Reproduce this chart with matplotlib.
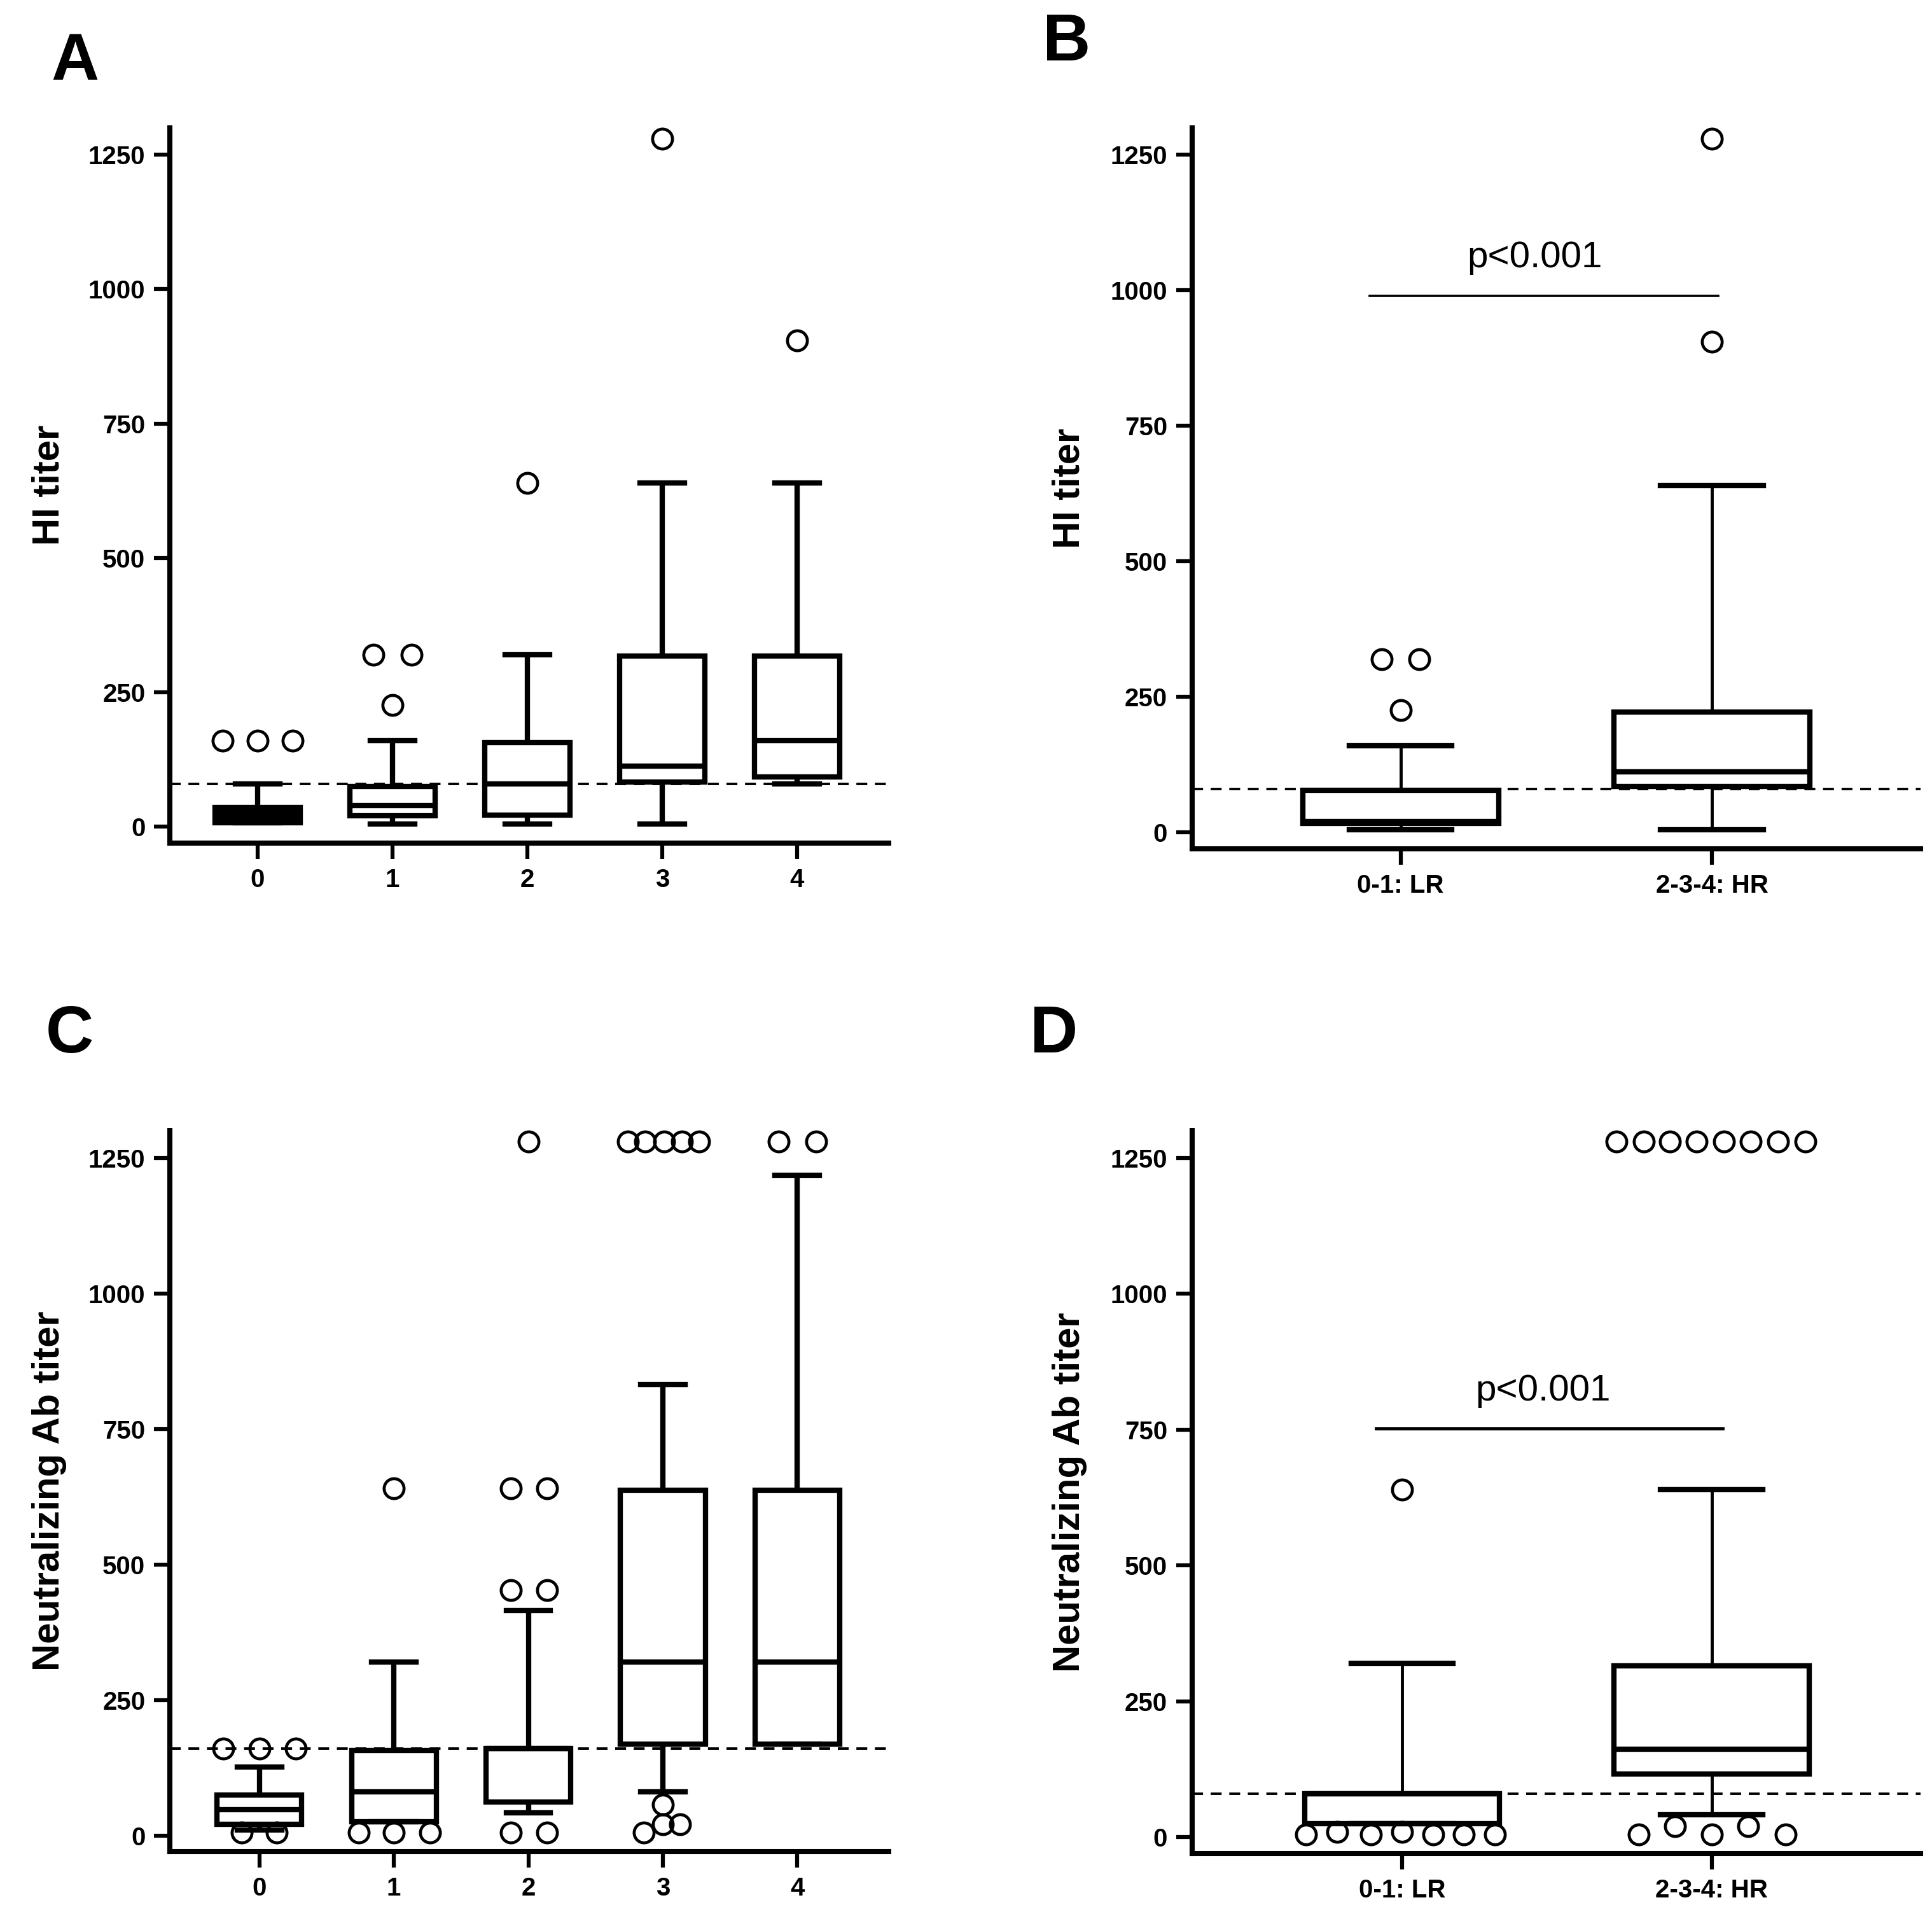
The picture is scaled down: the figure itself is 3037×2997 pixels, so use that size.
import matplotlib
matplotlib.use('Agg')
import matplotlib.pyplot as plt

plt.rcParams['font.family'] = ['Liberation Sans', 'DejaVu Sans']

# panel A - HI titer by score
a_labels = ['0', '1', '2', '3', '4']
a_q1 = [8, 20, 22, 83, 93]
a_med = [20, 40, 80, 113, 160]
a_q3 = [36, 75, 157, 317, 317]
a_lo = [8, 5, 5, 5, 80]
a_hi = [80, 160, 320, 640, 640]
a_fx = [-0.26, 0, 0.26, 0.86, 1.14, 1, 2, 3, 4]
a_fy = [160, 160, 160, 320, 320, 226, 640, 1280, 905]

# panel B - HI titer LR / HR
b_labels = ['0-1: LR', '2-3-4: HR']
b_q1 = [16, 85]
b_med = [20, 112]
b_q3 = [78, 222]
b_lo = [5, 5]
b_hi = [160, 640]
b_fx = [-0.06, 0.06, 0, 1, 1]
b_fy = [320, 320, 226, 1280, 905]

# panel C - neutralizing Ab titer by score
c_labels = ['0', '1', '2', '3', '4']
c_q1 = [20, 25, 62, 168, 168]
c_med = [48, 80, 160, 320, 320]
c_q3 = [75, 157, 160, 637, 637]
c_lo = [10, 25, 42, 80, 168]
c_hi = [126, 320, 415, 832, 1218]
c_fx = [-0.27, 0, 0.27, -0.13, 0.13,
        1, 0.74, 1, 1.27,
        2, 1.87, 2.14, 1.87, 2.14, 1.87, 2.14,
        2.74, 2.87, 3.01, 3.14, 3.27, 3, 3, 3.13, 2.86,
        3.86, 4.14]
c_fy = [160, 160, 160, 5, 5,
        640, 5, 5, 5,
        1280, 640, 640, 453, 453, 5, 5,
        1280, 1280, 1280, 1280, 1280, 57, 20, 20, 5,
        1280, 1280]

# panel D - neutralizing Ab titer LR / HR
d_labels = ['0-1: LR', '2-3-4: HR']
d_q1 = [25, 116]
d_med = [80, 162]
d_q3 = [80, 316]
d_lo = [25, 42]
d_hi = [320, 640]
d_fx = [0, -0.31, -0.21, -0.1, 0, 0.1, 0.2, 0.3,
        0.693, 0.781, 0.865, 0.952, 1.04, 1.127, 1.215, 1.303,
        0.764, 0.882, 1, 1.118, 1.238]
d_fy = [640, 5, 10, 5, 10, 5, 5, 5,
        1280, 1280, 1280, 1280, 1280, 1280, 1280, 1280,
        5, 20, 5, 20, 5]


def make_stats(labels, q1, med, q3, lo, hi):
    out = []
    for i in range(len(labels)):
        out.append(dict(label=labels[i], q1=q1[i], med=med[i], q3=q3[i],
                        whislo=lo[i], whishi=hi[i], fliers=[]))
    return out


def draw_panel(ax, st, fx, fy, cutoff, xlim, whisk_lw, ylabel):
    n = len(st)
    bp = ax.bxp(st, positions=list(range(n)), widths=0.63, showfliers=False,
                patch_artist=True, capwidths=0.33,
                boxprops=dict(lw=6, edgecolor='black', facecolor='white'),
                whiskerprops=dict(lw=whisk_lw, color='black', solid_capstyle='butt'),
                capprops=dict(lw=6, color='black'),
                medianprops=dict(lw=6, color='black', solid_capstyle='butt'))
    ax.plot(fx, fy, 'o', ms=22.5, mfc='none', mec='black', mew=3.4, clip_on=False, zorder=5)
    ax.axhline(cutoff, ls=(0, (4.4, 3.1)), lw=2.8, color='black', zorder=1)
    ax.set_xlim(xlim)
    ax.set_ylim(-30, 1300)
    ax.set_yticks([0, 250, 500, 750, 1000, 1250])
    ax.set_xticks(list(range(n)))
    ax.set_xticklabels([s['label'] for s in st])
    for s in ['top', 'right']:
        ax.spines[s].set_visible(False)
    for s in ['left', 'bottom']:
        ax.spines[s].set_linewidth(5.8)
    ax.tick_params(length=18, width=4.5, labelsize=29, pad=10)
    for t in ax.get_xticklabels() + ax.get_yticklabels():
        t.set_fontweight('bold')
    ax.set_ylabel(ylabel, fontsize=43, fontweight='bold')
    ax.yaxis.set_label_coords(-0.144, 0.5)
    return bp


fig = plt.figure(figsize=(30.37, 29.97), dpi=100)
axA = fig.add_axes([0.088, 0.558, 0.372, 0.375])
axB = fig.add_axes([0.617, 0.555, 0.377, 0.378])
axC = fig.add_axes([0.088, 0.029, 0.372, 0.378])
axD = fig.add_axes([0.617, 0.028, 0.377, 0.379])

bpA = draw_panel(axA, make_stats(a_labels, a_q1, a_med, a_q3, a_lo, a_hi),
                 a_fx, a_fy, 80, (-0.65, 4.68), 6, 'HI titer')
bpA['boxes'][0].set_facecolor('black')
draw_panel(axB, make_stats(b_labels, b_q1, b_med, b_q3, b_lo, b_hi),
           b_fx, b_fy, 80, (-0.67, 1.67), 3.5, 'HI titer')
draw_panel(axC, make_stats(c_labels, c_q1, c_med, c_q3, c_lo, c_hi),
           c_fx, c_fy, 160, (-0.665, 4.68), 6, 'Neutralizing Ab titer')
draw_panel(axD, make_stats(d_labels, d_q1, d_med, d_q3, d_lo, d_hi),
           d_fx, d_fy, 80, (-0.678, 1.674), 3.5, 'Neutralizing Ab titer')

# significance bars
axB.plot([-0.10, 1.02], [990, 990], color='black', lw=2.6)
axB.text(0.43, 1043, 'p<0.001', ha='center', va='baseline', fontsize=42)
axD.plot([-0.085, 1.035], [752, 752], color='black', lw=3.5)
axD.text(0.455, 804, 'p<0.001', ha='center', va='baseline', fontsize=42)

# panel letters
for lab, x, y in [('A', 0.0389, 0.967), ('B', 0.552, 0.977),
                  ('C', 0.036, 0.457), ('D', 0.5456, 0.4568)]:
    fig.text(x, y, lab, fontsize=75, fontweight='bold', ha='center', va='center')

fig.savefig('out.png', dpi=100)
